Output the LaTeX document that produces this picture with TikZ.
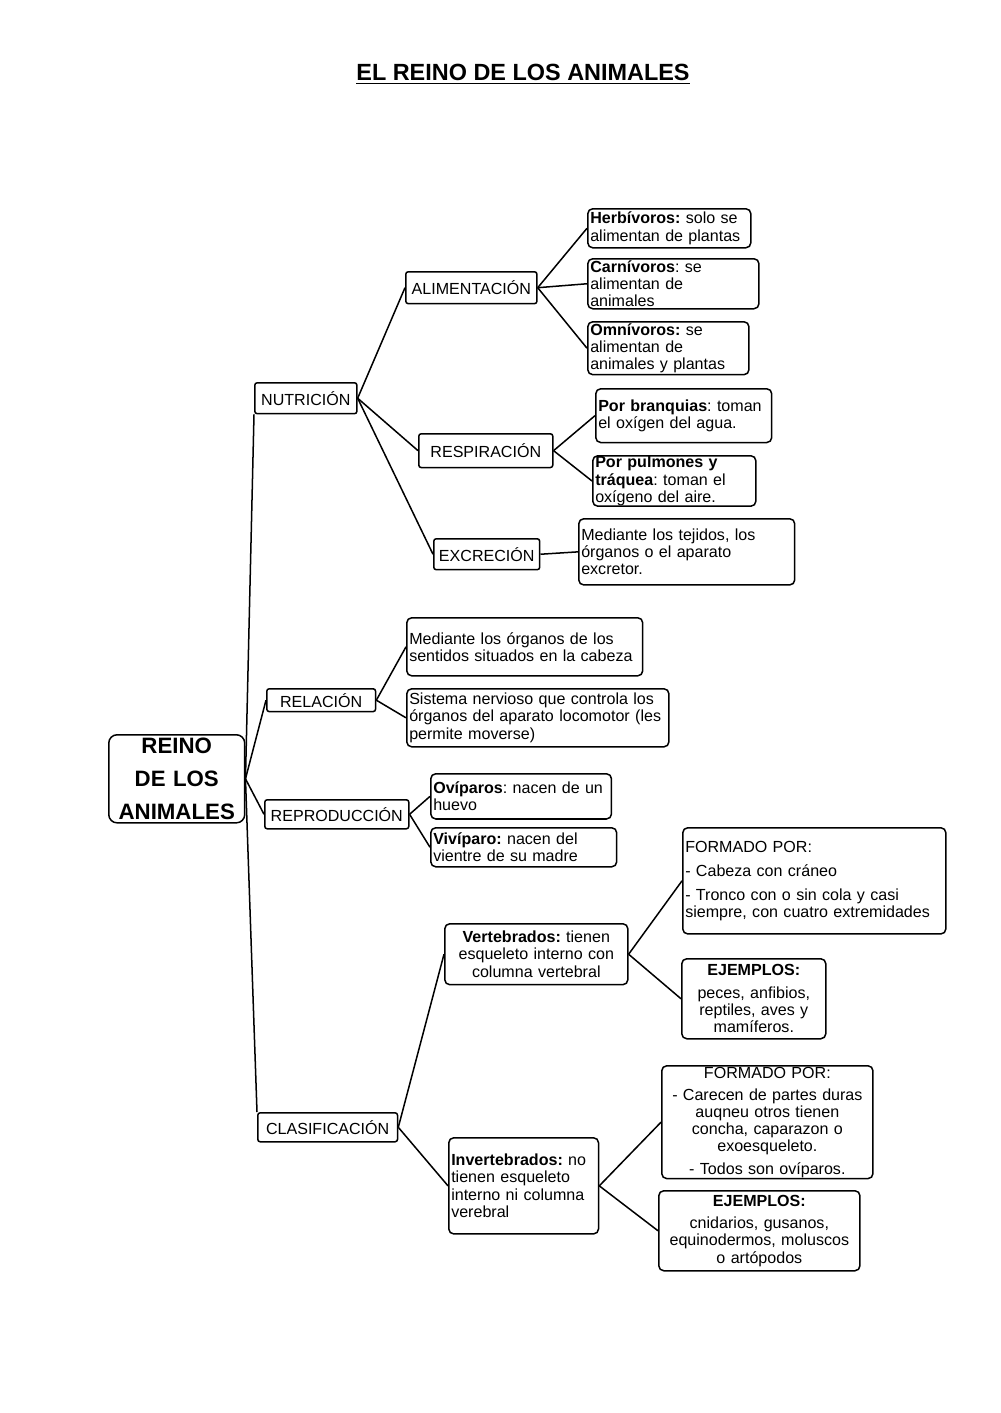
\documentclass[tikz,border=0pt]{standalone}
\usepackage{fontspec}
\setmainfont{Liberation Sans}
\frenchspacing
\newcommand{\mapfont}{\fontsize{9.6}{10.3}\selectfont}

\begin{document}
\begin{tikzpicture}[x=0.21mm, y=-0.21mm,
  box/.style={draw, line width=0.9pt, rounded corners=3pt, anchor=north west,
    inner xsep=1.5pt, inner ysep=1pt, font=\mapfont},
  topic/.style={box, rounded corners=1.5pt, align=center},
  leaf/.style={box, align=left},
  cleaf/.style={box, align=center},
  link/.style={line width=0.9pt},
]
  \useasboundingbox (0,0) rectangle (1000,1413);
  % titulo
  \node (title) at (523,74) {\fontsize{14}{16}\selectfont\bfseries\underline{EL REINO DE LOS ANIMALES}};
  % nodo central
  \node[box, align=center, rounded corners=5pt, text width=27.5mm, minimum height=18.5mm,
    font=\fontsize{13.3}{19.7}\selectfont\bfseries] (reino) at (108,734)
    {REINO\\DE LOS\\ANIMALES};
  % ramas principales
  \node[topic, text width=20.4mm, minimum height=6.5mm] (nutr) at (254,382) {NUTRICIÓN};
  \node[topic, text width=21.8mm, minimum height=4.8mm] (rela) at (266,688) {RELACIÓN};
  \node[topic, text width=29.2mm, minimum height=6.1mm] (repr) at (264,799) {REPRODUCCIÓN};
  \node[topic, text width=28.3mm, minimum height=6.1mm] (clas) at (257,1112) {CLASIFICACIÓN};
  % nutricion
  \node[topic, text width=26.5mm, minimum height=6.7mm] (alim) at (405,271) {ALIMENTACIÓN};
  \node[topic, text width=27.1mm, minimum height=7.1mm] (resp) at (418,433) {RESPIRACIÓN};
  \node[topic, text width=21.2mm, minimum height=6.5mm] (excr) at (433,538) {EXCRECIÓN};
  \node[leaf, text width=33.2mm, minimum height=8.2mm] (herb) at (587,208)
    {\textbf{Herbívoros:} solo se\\alimentan de plantas};
  \node[leaf, text width=34.9mm, minimum height=10.5mm] (carn) at (587,258)
    {\textbf{Carnívoros}: se\\alimentan de\\animales};
  \node[leaf, text width=32.8mm, minimum height=10.7mm] (omni) at (587,321)
    {\textbf{Omnívoros:} se\\alimentan de\\animales y plantas};
  \node[leaf, text width=35.9mm, minimum height=11.3mm] (bran) at (595,388)
    {\textbf{Por branquias}: toman\\el oxígen del agua.};
  \node[leaf, text width=33.2mm, minimum height=10.1mm, inner ysep=0.3pt] (pulm) at (592,455)
    {\textbf{Por pulmones y}\\\textbf{tráquea}: toman el\\oxígeno del aire.};
  \node[leaf, text width=44.3mm, minimum height=13.9mm] (teji) at (578,518)
    {Mediante los tejidos, los\\órganos o el aparato\\excretor.};
  % relacion
  \node[leaf, text width=48.5mm, minimum height=12.2mm] (orga) at (406,617)
    {Mediante los órganos de los\\sentidos situados en la cabeza};
  \node[leaf, text width=54mm, minimum height=12.2mm] (sist) at (406,688)
    {Sistema nervioso que controla los\\órganos del aparato locomotor (les\\permite moverse)};
  % reproduccion
  \node[leaf, text width=36.9mm, minimum height=9.5mm] (ovip) at (430,773)
    {\textbf{Ovíparos}: nacen de un\\huevo};
  \node[leaf, text width=38mm, minimum height=8.2mm] (vivi) at (430,827)
    {\textbf{Vivíparo:} nacen del\\vientre de su madre};
  % clasificacion
  \node[cleaf, text width=37.4mm, minimum height=12.8mm] (vert) at (444,923)
    {\textbf{Vertebrados:} tienen\\esqueleto interno con\\columna vertebral};
  \node[leaf, text width=54.2mm, minimum height=22.3mm] (fvert) at (682,827)
    {FORMADO POR:\\[4pt]- Cabeza con cráneo\\[4pt]- Tronco con o sin cola y casi\\siempre, con cuatro extremidades};
  \node[cleaf, text width=29.2mm, minimum height=16.8mm] (evert) at (681,958)
    {\textbf{EJEMPLOS:}\\[3pt]peces, anfibios,\\reptiles, aves y\\mamíferos.};
  \node[leaf, text width=30.4mm, minimum height=20.2mm] (inv) at (448,1137)
    {\textbf{Invertebrados:} no\\tienen esqueleto\\interno ni columna\\verebral};
  \node[cleaf, text width=43.3mm, minimum height=23.7mm, inner ysep=0pt] (finv) at (661,1065)
    {FORMADO POR:\\[3pt]- Carecen de partes duras\\auqneu otros tienen\\concha, caparazon o\\exoesqueleto.\\[3pt]- Todos son ovíparos.};
  \node[cleaf, text width=41.2mm, minimum height=16.8mm] (einv) at (658,1190)
    {\textbf{EJEMPLOS:}\\[3pt]cnidarios, gusanos,\\equinodermos, moluscos\\o artópodos};
  % conexiones
  \draw[link] (reino.east) -- (nutr.south west);
  \draw[link] (reino.east) -- (rela.west);
  \draw[link] (reino.east) -- (repr.west);
  \draw[link] (reino.east) -- (clas.north west);
  \foreach \ch in {alim,resp,excr} \draw[link] (nutr.east) -- (\ch.west);
  \foreach \ch in {herb,carn,omni} \draw[link] (alim.east) -- (\ch.west);
  \foreach \ch in {bran,pulm} \draw[link] (resp.east) -- (\ch.west);
  \draw[link] (excr.east) -- (teji.west);
  \foreach \ch in {orga,sist} \draw[link] (rela.east) -- (\ch.west);
  \foreach \ch in {ovip,vivi} \draw[link] (repr.east) -- (\ch.west);
  \foreach \ch in {vert,inv} \draw[link] (clas.east) -- (\ch.west);
  \foreach \ch in {fvert,evert} \draw[link] (vert.east) -- (\ch.west);
  \foreach \ch in {finv,einv} \draw[link] (inv.east) -- (\ch.west);
\end{tikzpicture}
\end{document}
